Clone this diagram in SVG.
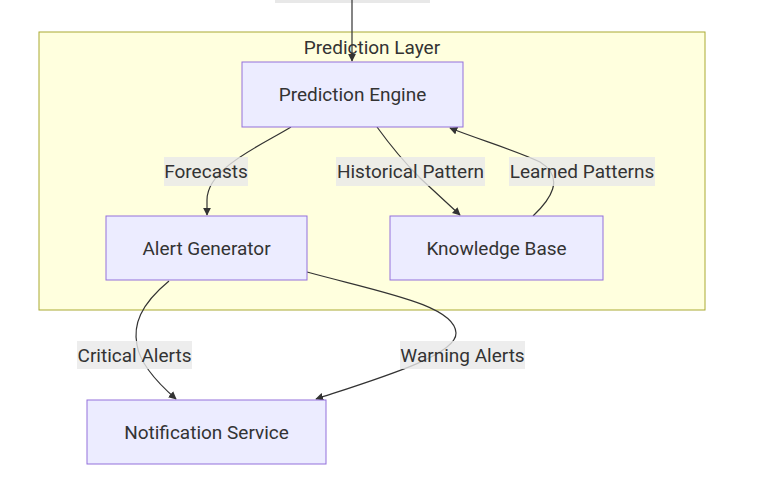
<svg xmlns="http://www.w3.org/2000/svg" width="757" height="490" viewBox="0 0 757 490">
<defs>
<marker id="arrow" viewBox="0 0 10 10" refX="9" refY="5" markerWidth="8" markerHeight="8" markerUnits="userSpaceOnUse" orient="auto">
<path d="M0,0 L10,5 L0,10 z" fill="#333333"/>
</marker>
<style>
.node rect{fill:#ececff;stroke:#9370db;stroke-width:1}
.node text,.lbl text,.cl text{font-family:Roboto,"Liberation Sans",sans-serif;font-size:19px;fill:#333333;text-anchor:middle;dominant-baseline:central}
.edge{fill:none;stroke:#333333;stroke-width:1.2;marker-end:url(#arrow)}
.lbl rect{fill:rgba(232,232,232,0.8);stroke:none}
</style>
</defs>
<rect width="757" height="490" fill="#ffffff"/>
<g id="cluster" class="cl">
<rect x="39" y="32" width="666" height="278" fill="#ffffde" stroke="#aaaa33" stroke-width="1"/>
<text x="372" y="47">Prediction Layer</text>
</g>
<rect x="275" y="-20" width="155" height="23" fill="#e8e8e8"/>
<g id="connectors">
<path class="edge" d="M352,0 L352,61"/>
<path class="edge" d="M291,127 C262,145 207,168 207,200 L207,215"/>
<path class="edge" d="M377,127 C390,145 400,158 420,178 L460,215"/>
<path class="edge" d="M533,216 C550,200 566,178 540,162 C515,150 480,140 450,128"/>
<path class="edge" d="M169,281 C140,305 133,325 137,345 C140,365 160,385 176,399"/>
<path class="edge" d="M307,272 C380,292 455,305 456,333 C457,355 380,378 316,399"/>
</g>
<g id="edge-labels">
<g class="lbl"><rect x="164" y="157" width="84" height="29"/><text x="206" y="171.5">Forecasts</text></g>
<g class="lbl"><rect x="336" y="157" width="149" height="29"/><text x="410.5" y="171.5">Historical Pattern</text></g>
<g class="lbl"><rect x="509" y="157" width="146" height="29"/><text x="582" y="171.5">Learned Patterns</text></g>
<g class="lbl"><rect x="77" y="341" width="115" height="28"/><text x="134.5" y="355">Critical Alerts</text></g>
<g class="lbl"><rect x="400" y="341" width="125" height="28"/><text x="462.5" y="355">Warning Alerts</text></g>
</g>
<g id="prediction-engine" class="node"><rect x="242" y="62" width="221" height="65"/><text x="352.5" y="94.5">Prediction Engine</text></g>
<g id="alert-generator" class="node"><rect x="106" y="216" width="201" height="64"/><text x="206.5" y="248">Alert Generator</text></g>
<g id="knowledge-base" class="node"><rect x="390" y="216" width="213" height="64"/><text x="496.5" y="248">Knowledge Base</text></g>
<g id="notification-service" class="node"><rect x="87" y="400" width="239" height="64"/><text x="206.5" y="432">Notification Service</text></g>
</svg>
